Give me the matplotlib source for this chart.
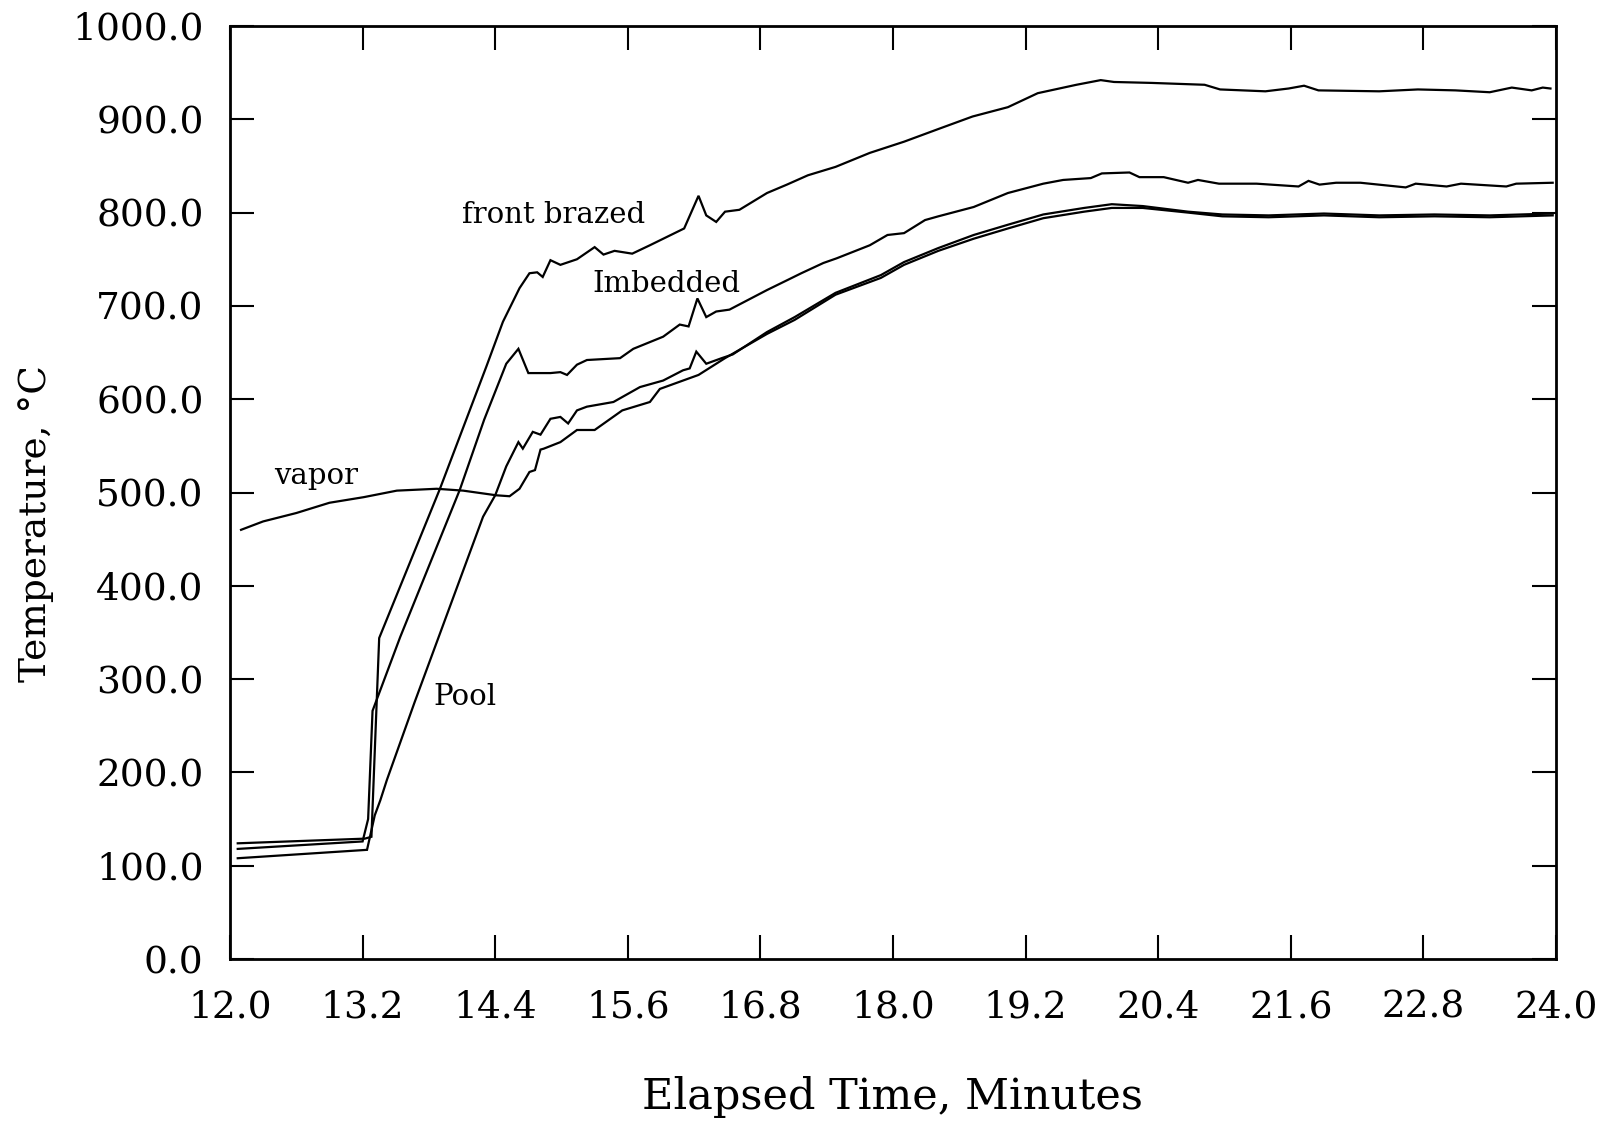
import matplotlib
matplotlib.use("Agg")
import matplotlib.pyplot as plt
from matplotlib.ticker import MultipleLocator, FormatStrFormatter

plt.rcParams['font.family'] = ['DejaVu Serif']

# Thermocouple traces: elapsed time (min) and temperature (deg C)
front_time = [12.07, 13.22, 13.28, 13.35, 13.90, 14.32, 14.47, 14.62, 14.71, 14.78,
              14.83, 14.90, 14.99, 15.14, 15.30, 15.38, 15.48, 15.64, 15.80, 16.11,
              16.24, 16.31, 16.40, 16.48, 16.61, 16.86, 17.04, 17.23, 17.48, 17.79,
              18.10, 18.42, 18.72, 19.04, 19.31, 19.66, 19.88, 20.00, 20.34, 20.82,
              20.96, 21.37, 21.58, 21.72, 21.85, 22.40, 22.75, 23.09, 23.40, 23.60,
              23.78, 23.88, 23.95]
front_temp = [124, 129, 131, 344, 504, 635, 683, 719, 735, 736,
              731, 749, 744, 750, 763, 755, 759, 756, 765, 783,
              818, 797, 790, 801, 803, 821, 830, 840, 849, 864,
              876, 890, 903, 913, 928, 937, 942, 940, 939, 937,
              932, 930, 933, 936, 931, 930, 932, 931, 929, 934,
              931, 934, 933]

imbedded_time = [12.07, 13.20, 13.25, 13.29, 13.54, 14.08, 14.30, 14.50, 14.61, 14.70,
                 14.90, 14.99, 15.05, 15.14, 15.23, 15.53, 15.65, 15.92, 16.07, 16.15,
                 16.23, 16.31, 16.40, 16.52, 16.86, 17.05, 17.17, 17.37, 17.49, 17.79,
                 17.95, 18.10, 18.29, 18.41, 18.73, 19.04, 19.36, 19.54, 19.79, 19.89,
                 20.14, 20.23, 20.45, 20.67, 20.76, 20.95, 21.29, 21.67, 21.76, 21.86,
                 22.01, 22.23, 22.64, 22.73, 23.01, 23.14, 23.55, 23.64, 23.97]
imbedded_temp = [118, 126, 150, 266, 345, 503, 578, 638, 654, 628,
                 628, 629, 626, 637, 642, 644, 654, 667, 680, 678,
                 708, 688, 694, 696, 717, 728, 735, 746, 751, 765,
                 776, 778, 792, 796, 806, 821, 831, 835, 837, 842,
                 843, 838, 838, 832, 835, 831, 831, 828, 834, 830,
                 832, 832, 827, 831, 828, 831, 828, 831, 832]

vapor_time = [12.10, 12.30, 12.60, 12.90, 13.21, 13.51, 13.87, 14.11, 14.41, 14.53,
              14.62, 14.71, 14.76, 14.81, 14.84, 14.99, 15.14, 15.30, 15.55, 15.80,
              15.89, 16.24, 16.48, 16.86, 17.11, 17.48, 17.89, 18.10, 18.41, 18.73,
              19.04, 19.36, 19.73, 19.98, 20.26, 20.67, 20.98, 21.40, 21.90, 22.40,
              22.90, 23.40, 23.97]
vapor_temp = [460, 469, 478, 489, 495, 502, 504, 502, 497, 496,
              504, 522, 524, 546, 547, 554, 567, 567, 588, 597,
              611, 626, 644, 670, 685, 712, 730, 744, 759, 772,
              783, 794, 801, 805, 805, 800, 796, 795, 797, 795,
              796, 795, 797]

pool_time = [12.07, 13.24, 13.28, 13.31, 13.36, 13.42, 13.67, 14.29, 14.40, 14.50,
             14.61, 14.65, 14.74, 14.81, 14.90, 14.99, 15.06, 15.14, 15.23, 15.47,
             15.71, 15.92, 16.10, 16.16, 16.22, 16.31, 16.45, 16.55, 16.86, 17.11,
             17.48, 17.89, 18.10, 18.41, 18.73, 19.04, 19.36, 19.73, 19.98, 20.26,
             20.67, 20.98, 21.40, 21.90, 22.40, 22.90, 23.40, 23.97]
pool_temp = [108, 117, 138, 154, 170, 192, 275, 474, 497, 528,
             554, 547, 565, 562, 579, 581, 574, 588, 592, 597,
             613, 620, 631, 633, 651, 638, 644, 648, 672, 688,
             714, 733, 747, 762, 776, 787, 798, 805, 809, 807,
             801, 798, 797, 799, 797, 798, 797, 799]

x_ticks = [12.0, 13.2, 14.4, 15.6, 16.8, 18.0, 19.2, 20.4, 21.6, 22.8, 24.0]

fig = plt.figure(figsize=(16.07, 11.25), dpi=100)
ax = fig.add_axes([230 / 1607, 1 - 959 / 1125, 1326 / 1607, 933 / 1125])

line_kw = dict(color='black', lw=1.6, solid_joinstyle='miter')
ax.plot(front_time, front_temp, **line_kw)
ax.plot(imbedded_time, imbedded_temp, **line_kw)
ax.plot(vapor_time, vapor_temp, **line_kw)
ax.plot(pool_time, pool_temp, **line_kw)

ax.set_xlim(12.0, 24.0)
ax.set_ylim(0.0, 1000.0)
ax.set_xticks(x_ticks)
ax.yaxis.set_major_locator(MultipleLocator(100))
ax.xaxis.set_major_formatter(FormatStrFormatter('%.1f'))
ax.yaxis.set_major_formatter(FormatStrFormatter('%.1f'))

ax.tick_params(axis='both', which='major', direction='in', length=17, width=1.5,
               top=True, right=True, labelsize=27, colors='black')
ax.tick_params(axis='x', pad=22)
ax.tick_params(axis='y', pad=19)
for sp in ax.spines.values():
    sp.set_linewidth(2.0)

ax.set_xlabel('Elapsed Time, Minutes', fontsize=31, va='center')
ax.set_ylabel('Temperature, °C', fontsize=27, va='center')
ax.xaxis.set_label_coords(0.5, -0.148)
ax.yaxis.set_label_coords(-0.146, 0.467)

lab_kw = dict(fontsize=21, ha='center', va='baseline', color='black')
ax.text(14.93, 789, 'front brazed', **lab_kw)
ax.text(15.95, 715, 'Imbedded', **lab_kw)
ax.text(12.78, 509, 'vapor', **lab_kw)
ax.text(14.13, 272, 'Pool', **lab_kw)

fig.savefig('out.png', dpi=100, facecolor='white')
